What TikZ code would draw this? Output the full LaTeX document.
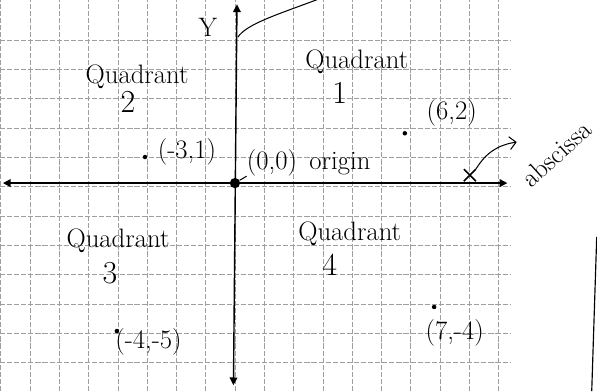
\documentclass[tikz,border=0pt]{standalone}
\usepackage{tikz}
\usetikzlibrary{arrows.meta, shapes.misc}
\tikzset{
  gridline/.style={gray!75, line width=0.4pt, dash pattern=on 4pt off 1.5pt},
  axisline/.style={{Triangle[length=6pt,width=6pt]}-{Triangle[length=6pt,width=6pt]}, line width=1.1pt},
  quadlabel/.style={font=\huge, inner sep=0pt},
  quadnum/.style={font=\Huge, inner sep=0pt},
  ptlabel/.style={font=\huge, inner sep=0pt},
  ptdot/.style={circle, fill=black, inner sep=0pt, minimum size=3.5pt},
}

\begin{document}
\begin{tikzpicture}[
  x=0.8cm, y=0.8cm,
  pointer/.style={-{Straight Barb[length=5pt]}, line width=0.8pt}
]
  \useasboundingbox (-8.02,-7.1) rectangle (12.36,6.25);

  % Grid paper
  \foreach \x in {-8,...,9}
    \draw[gridline] (\x,-7.1) -- (\x,6.25);
  \foreach \y in {-6,...,5}
    \draw[gridline] (-8.02,\y-0.12) -- (9.4,\y-0.12);
  \coordinate (edgetop) at (12.35,-1.84);
  \coordinate (edgebot) at (12.18,-7.1);
  \draw[line width=0.9pt] (edgetop) -- (edgebot);

  % Axes
  \coordinate (xleft) at (-7.92,0);
  \coordinate (xright) at (9.3,0);
  \coordinate (ytop) at (0.07,6.1);
  \coordinate (ybot) at (-0.05,-6.9);
  \draw[axisline] (xleft) -- (xright);
  \draw[axisline] (ybot) -- (ytop);
  \node (ylbl) at (-0.92,5.32) [font=\huge, inner sep=0pt] {Y};
  \coordinate (curvestart) at (0.1,4.98);
  \coordinate (curveend) at (2.9,6.3);
  \draw[line width=0.8pt] (curvestart) .. controls (0.4,5.45) and (1.6,5.8) .. (curveend);

  % Quadrants
  \node (q2) at (-3.34,3.62) [quadlabel] {Quadrant};
  \node (q2num) at (-3.65,2.76) [quadnum] {2};
  \node (q1) at (4.16,4.13) [quadlabel] {Quadrant};
  \node (q1num) at (3.58,3.07) [quadnum] {1};
  \node (q3) at (-3.99,-1.98) [quadlabel] {Quadrant};
  \node (q3num) at (-4.27,-3.07) [quadnum] {3};
  \node (q4) at (3.92,-1.74) [quadlabel] {Quadrant};
  \node (q4num) at (3.24,-2.8) [quadnum] {4};

  % Points
  \node (orig) at (0,0) [ptdot, minimum size=8pt] {};
  \node (origlbl) at (0.4,0.7) [ptlabel, anchor=west] {(0,0)\ \,origin};
  \draw[line width=0.8pt] (orig) -- (origlbl.south west);
  \node (pa) at (-3.07,0.89) [ptdot] {};
  \node (palbl) at (-1.64,1.06) [ptlabel] {(-3,1)};
  \node (pb) at (5.8,1.7) [ptdot] {};
  \node (pblbl) at (7.4,2.39) [ptlabel] {(6,2)};
  \node (pc) at (-4.03,-5.05) [ptdot] {};
  \node (pclbl) at (-2.95,-5.43) [ptlabel] {(-4,-5)};
  \node (pd) at (6.8,-4.23) [ptdot] {};
  \node (pdlbl) at (7.5,-5.12) [ptlabel] {(7,-4)};

  % Abscissa mark
  \node (xmark) at (8.02,0.27) [cross out, draw, line width=1.3pt, minimum size=8pt, inner sep=0pt] {};
  \coordinate (tipend) at (9.62,1.4);
  \draw[pointer] (xmark.north east) to[bend left=25] (tipend);
  \node (abslbl) at (10.98,1.0) [font=\huge, rotate=42, inner sep=0pt] {abscissa};
\end{tikzpicture}
\end{document}
